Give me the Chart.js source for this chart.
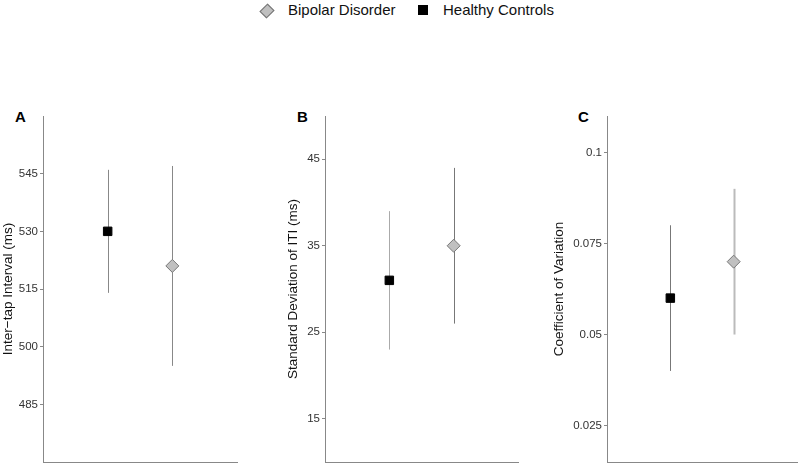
<!DOCTYPE html>
<html>
<head>
<meta charset="utf-8">
<script src="https://cdn.jsdelivr.net/npm/chart.js@4.4.0/dist/chart.umd.min.js"></script>
<style>
    body { margin: 0; width: 800px; height: 463px; background: #fff; position: relative; overflow: hidden;
           font-family: "Liberation Sans", Arial, sans-serif; }
    .panel { position: absolute; }
    .letter { position: absolute; font-weight: bold; font-size: 15px; color: #000; }
    .legend { position: absolute; top: 1px; left: 0; font-size: 15px; color: #111; }
    .legend span { position: absolute; white-space: nowrap; }
    .diamond { position: absolute; width: 8px; height: 8px; background: #c0c0c0; border: 1px solid #777;
               transform: rotate(45deg) scaleY(1.15); }
    .square { position: absolute; width: 10px; height: 10px; background: #000; }
</style>
</head>
<body>
<div class="legend">
    <div class="diamond" style="left:262px; top:5px;"></div>
    <span style="left:288px; top:0px;">Bipolar Disorder</span>
    <div class="square" style="left:418px; top:4px;"></div>
    <span style="left:443px; top:0px;">Healthy Controls</span>
</div>

<div class="letter" style="left:15px; top:108px;">A</div>
<div class="letter" style="left:297px; top:108px;">B</div>
<div class="letter" style="left:578px; top:108px;">C</div>

<canvas id="chartA" class="panel" style="left:0px; top:100px;" width="240" height="363"></canvas>
<canvas id="chartB" class="panel" style="left:285px; top:100px;" width="236" height="363"></canvas>
<canvas id="chartC" class="panel" style="left:551px; top:100px;" width="249" height="363"></canvas>

<script>
// ===== DATA =====
const groups = ['Healthy Controls', 'Bipolar Disorder'];
const groupX = [1, 2];

// Panel A: inter-tap interval (ms)
const itiMean = [530, 521];
const itiLow = [514, 495];
const itiHigh = [546, 547];
const itiTicks = [485, 500, 515, 530, 545];

// Panel B: SD of ITI (ms)
const sdMean = [31, 35];
const sdLow = [23, 26];
const sdHigh = [39, 44];
const sdTicks = [15, 25, 35, 45];

// Panel C: coefficient of variation
const cvMean = [0.06, 0.07];
const cvLow = [0.04, 0.05];
const cvHigh = [0.08, 0.09];
const cvTicks = [0.025, 0.05, 0.075, 0.1];

// ===== ERROR BARS =====
const errorBars = {
    id: 'errorBars',
    beforeDatasetsDraw(chart, args, opts) {
        const { ctx, scales: { x, y } } = chart;
        chart.data.datasets.forEach((ds, i) => {
            const px = x.getPixelForValue(ds.data[0].x);
            ctx.save();
            ctx.strokeStyle = opts.colors[i];
            ctx.lineWidth = opts.widths[i];
            ctx.beginPath();
            ctx.moveTo(Math.round(px) + 0.5, y.getPixelForValue(ds.low));
            ctx.lineTo(Math.round(px) + 0.5, y.getPixelForValue(ds.high));
            ctx.stroke();
            ctx.restore();
        });
    }
};

function makePanel(id, mean, low, high, ticks, range, title, yWidth, barColors, barWidths, fmt) {
    const datasets = groups.map((g, i) => ({
        label: g,
        data: [{ x: groupX[i], y: mean[i] }],
        low: low[i],
        high: high[i],
        pointStyle: i === 0 ? 'rect' : 'rectRot',
        pointRadius: i === 0 ? 6 : 6.5,
        backgroundColor: i === 0 ? '#000' : '#c0c0c0',
        borderColor: i === 0 ? '#000' : '#777',
        borderWidth: 1
    }));

    new Chart(document.getElementById(id), {
        type: 'scatter',
        data: { datasets },
        options: {
            responsive: false,
            animation: false,
            events: [],
            layout: { autoPadding: false, padding: { top: 16, right: 3, bottom: 0, left: 0 } },
            plugins: {
                legend: { display: false },
                tooltip: { enabled: false },
                errorBars: { colors: barColors, widths: barWidths }
            },
            scales: {
                x: {
                    type: 'linear', min: 0, max: 3,
                    ticks: { display: false },
                    grid: { display: false },
                    border: { display: true, color: '#888', width: 1 },
                    afterFit: s => { s.height = 1; s.paddingLeft = 0; s.paddingRight = 0; }
                },
                y: {
                    min: range[0], max: range[1],
                    afterBuildTicks: s => { s.ticks = ticks.map(v => ({ value: v })); },
                    ticks: {
                        color: '#333', padding: 2,
                        font: { family: '"Liberation Sans", Arial, sans-serif', size: 11.5 },
                        callback: v => fmt ? fmt(v) : v
                    },
                    grid: { drawOnChartArea: false, drawTicks: true, tickLength: 3, color: '#888' },
                    border: { display: true, color: '#888', width: 1 },
                    title: {
                        display: true, text: title, color: '#111', padding: { top: 0, bottom: 0 },
                        font: { family: '"Liberation Sans", Arial, sans-serif', size: 13.5 }
                    },
                    afterFit: s => { s.width = yWidth; s.paddingTop = 0; s.paddingBottom = 0; }
                }
            }
        },
        plugins: [errorBars]
    });
}

makePanel('chartA', itiMean, itiLow, itiHigh, itiTicks, [470, 560],
    'Inter\u2212tap Interval (ms)', 43, ['#888', '#888'], [1, 1]);
makePanel('chartB', sdMean, sdLow, sdHigh, sdTicks, [10, 50],
    'Standard Deviation of ITI (ms)', 40, ['#aaa', '#777'], [1, 1]);
makePanel('chartC', cvMean, cvLow, cvHigh, cvTicks, [0.015, 0.11],
    'Coefficient of Variation', 56, ['#777', '#bbb'], [1, 2], v => String(v));
</script>
</body>
</html>
